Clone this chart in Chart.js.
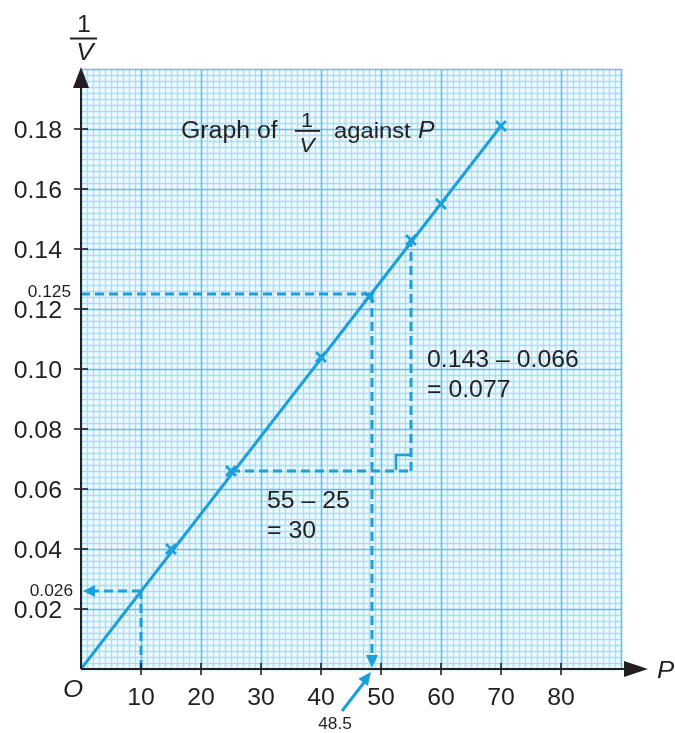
<!DOCTYPE html>
<html><head><meta charset="utf-8">
<script src="https://cdn.jsdelivr.net/npm/chart.js@4"></script>
<style>html,body{margin:0;padding:0;background:#fff;}#wrap{width:675px;height:733px;}</style>
</head><body><div id="wrap"><canvas id="c" width="675" height="733"></canvas></div>
<script>
// ---- data ----
const pValues   = [15, 25, 40, 48, 55, 60, 70];
const invVValues = [0.040, 0.066, 0.104, 0.124, 0.143, 0.155, 0.181];
const fitP = [0, 70];
const fitInvV = [0, 0.181];
const xTickLabels = [10, 20, 30, 40, 50, 60, 70, 80];
const yTickLabels = [0.02, 0.04, 0.06, 0.08, 0.10, 0.12, 0.14, 0.16, 0.18];
const readP = [10];          const readInvV = [0.026];
const interpP = [48.5];      const interpInvV = [0.125];
const gradP = [25, 55];      const gradInvV = [0.066, 0.143];
const xRange = [0, 90];
const yRange = [0, 0.2];
const xMinorStep = 1, xMajorEvery = 10;
const yMinorStep = 0.002, yMajorEvery = 10;

const BLUE = '#1aa0da';
const INK = '#231f20';
const PAPER = '#f1fafe';
const MINOR = '#a8dff7';
const MAJOR = '#5cc3ef';
const FONT = '"Liberation Sans", Arial, Helvetica, sans-serif';

function pts(xs, ys){ return xs.map((x,i)=>({x:x, y:ys[i]})); }
function dashed(data){ return {data, showLine:true, borderColor:BLUE, borderWidth:3, borderDash:[9,5], pointRadius:0, fill:false, clip:false}; }

function txt(ctx, s, x, y, size, opts){
  opts = opts || {};
  ctx.save();
  ctx.font = (opts.italic ? 'italic ' : '') + size + 'px ' + FONT;
  ctx.fillStyle = opts.color || INK;
  ctx.translate(x, y);
  ctx.scale(opts.sx || 1.08, 1);
  ctx.textAlign = opts.align || 'left';
  ctx.textBaseline = 'alphabetic';
  ctx.fillText(s, 0, 0);
  ctx.restore();
}
function tri(ctx, tip, dir, len, half, color){
  const [tx, ty] = tip; const [dx, dy] = dir;
  const n = Math.hypot(dx, dy); const ux = dx/n, uy = dy/n;
  const bx = tx - ux*len, by = ty - uy*len;
  ctx.save(); ctx.fillStyle = color; ctx.beginPath();
  ctx.moveTo(tx, ty);
  ctx.lineTo(bx - uy*half, by + ux*half);
  ctx.lineTo(bx + uy*half, by - ux*half);
  ctx.closePath(); ctx.fill(); ctx.restore();
}

const graphPaper = {
  id: 'graphPaper',
  beforeDatasetsDraw(chart){
    const ctx = chart.ctx; const xs = chart.scales.x, ys = chart.scales.y;
    const a = chart.chartArea;
    const nx = Math.round((xRange[1] - xRange[0]) / xMinorStep);
    const ny = Math.round((yRange[1] - yRange[0]) / yMinorStep);
    const left = Math.round(a.left), right = Math.round(a.right), top = Math.round(a.top), bottom = Math.round(a.bottom);
    ctx.save();
    ctx.fillStyle = PAPER; ctx.fillRect(left, top, right - left + 1, bottom - top);
    const pass = (major) => {
      ctx.beginPath();
      for (let i = 0; i <= nx; i++) {
        if ((i % xMajorEvery === 0) !== major) continue;
        const p = Math.round(xs.getPixelForValue(xRange[0] + i * xMinorStep)) + 0.5;
        ctx.moveTo(p, top); ctx.lineTo(p, bottom);
      }
      for (let j = 0; j <= ny; j++) {
        if ((j % yMajorEvery === 0) !== major) continue;
        const p = Math.round(ys.getPixelForValue(yRange[0] + j * yMinorStep)) + 0.5;
        ctx.moveTo(left, p); ctx.lineTo(right, p);
      }
      ctx.stroke();
    };
    ctx.lineWidth = 1.4; ctx.strokeStyle = MINOR; pass(false);
    ctx.lineWidth = 1.6; ctx.strokeStyle = MAJOR; pass(true);
    ctx.restore();
  }
};

const overlay = {
  id: 'overlay',
  afterDatasetsDraw(chart){
    const ctx = chart.ctx; const xs = chart.scales.x, ys = chart.scales.y;
    const X = v => xs.getPixelForValue(v), Y = v => ys.getPixelForValue(v);
    const x0 = X(0), y0 = Y(0);

    // right-angle marker at the gradient triangle corner
    ctx.save(); ctx.strokeStyle = BLUE; ctx.lineWidth = 2.5; ctx.setLineDash([]);
    ctx.beginPath();
    ctx.moveTo(X(gradP[1]) - 15, Y(gradInvV[0]) - 1);
    ctx.lineTo(X(gradP[1]) - 15, Y(gradInvV[0]) - 16);
    ctx.lineTo(X(gradP[1]) + 1, Y(gradInvV[0]) - 16);
    ctx.stroke(); ctx.restore();

    // arrowheads on dashed read-off lines
    tri(ctx, [x0 + 2, Y(readInvV[0])], [-1, 0], 12, 6, BLUE);
    tri(ctx, [X(interpP[0]), y0 - 1], [0, 1], 13, 6, BLUE);

    // axes
    ctx.save(); ctx.strokeStyle = INK; ctx.lineWidth = 2;
    ctx.beginPath(); ctx.moveTo(x0, y0); ctx.lineTo(627, y0); ctx.stroke();
    ctx.beginPath(); ctx.moveTo(x0, y0); ctx.lineTo(x0, 86); ctx.stroke();
    ctx.lineWidth = 1.6;
    yTickLabels.forEach(v => { ctx.beginPath(); ctx.moveTo(x0 - 7, Y(v)); ctx.lineTo(x0 + 7, Y(v)); ctx.stroke(); });
    xTickLabels.forEach(v => { ctx.beginPath(); ctx.moveTo(X(v), y0 - 6); ctx.lineTo(X(v), y0 + 6); ctx.stroke(); });
    ctx.restore();
    tri(ctx, [648, y0], [1, 0], 24, 8, INK);
    tri(ctx, [x0, 67], [0, -1], 21, 8, INK);

    // tick labels
    yTickLabels.forEach(v => txt(ctx, v.toFixed(2), 62, Y(v) + 8.5, 23, {align:'right'}));
    xTickLabels.forEach(v => txt(ctx, String(v), X(v), 705, 23, {align:'center'}));
    txt(ctx, 'O', 73, 697, 24, {italic:true, align:'center'});
    txt(ctx, 'P', 657, 678, 24, {italic:true});

    // y-axis title 1/V
    txt(ctx, '1', 84, 32, 23, {align:'center'});
    ctx.save(); ctx.fillStyle = INK; ctx.fillRect(70, 37.5, 27, 2); ctx.restore();
    txt(ctx, 'V', 85, 60, 24, {italic:true, align:'center'});

    // chart title
    txt(ctx, 'Graph of', 181, 138, 23);
    txt(ctx, '1', 307, 127, 20, {align:'center'});
    ctx.save(); ctx.fillStyle = INK; ctx.fillRect(295, 130, 25, 1.8); ctx.restore();
    txt(ctx, 'V', 307, 152, 21, {italic:true, align:'center'});
    txt(ctx, 'against', 334, 138, 22);
    txt(ctx, 'P', 418, 138, 23, {italic:true});

    // annotations
    txt(ctx, '0.143 \u2013 0.066', 427, 367, 23);
    txt(ctx, '= 0.077', 427, 397, 23);
    txt(ctx, '55 \u2013 25', 267, 508, 23);
    txt(ctx, '= 30', 267, 538, 23);
    txt(ctx, readInvV[0].toFixed(3), 73, 596, 16, {align:'right'});
    txt(ctx, interpInvV[0].toFixed(3), 71, 297, 16, {align:'right'});
    txt(ctx, String(interpP[0]), 335, 729, 16, {align:'center'});

    // arrow from 48.5 label to the axis
    ctx.save(); ctx.strokeStyle = BLUE; ctx.lineWidth = 3;
    ctx.beginPath(); ctx.moveTo(342, 711); ctx.lineTo(366, 680); ctx.stroke(); ctx.restore();
    tri(ctx, [X(interpP[0]) - 1, y0 + 3], [371 - 342, 673 - 711], 13, 6, BLUE);
  }
};

new Chart(document.getElementById('c'), {
  type: 'scatter',
  data: {
    datasets: [
      dashed(pts([readP[0], readP[0]], [0, readInvV[0]])),
      dashed(pts([readP[0], 2], [readInvV[0], readInvV[0]])),
      dashed(pts([0, interpP[0]], [interpInvV[0], interpInvV[0]])),
      dashed(pts([interpP[0], interpP[0]], [interpInvV[0], 0.004])),
      dashed(pts(gradP, [gradInvV[0], gradInvV[0]])),
      dashed(pts([gradP[1], gradP[1]], gradInvV)),
      {data: pts(fitP, fitInvV), showLine:true, borderColor:BLUE, borderWidth:3, pointRadius:0, fill:false},
      {data: pts(pValues, invVValues), showLine:false, pointStyle:'crossRot', pointRadius:7, borderColor:BLUE, backgroundColor:BLUE, pointBorderWidth:2.8}
    ]
  },
  options: {
    responsive: false, animation: false, devicePixelRatio: 1,
    layout: {padding: {left: 81, right: 54, top: 69, bottom: 64}},
    plugins: {legend: {display:false}, tooltip: {enabled:false}, title: {display:false}},
    scales: {
      x: {type:'linear', min:xRange[0], max:xRange[1],
          ticks:{display:false, stepSize:10},
          border:{display:false},
          grid:{display:false, drawTicks:false}},
      y: {type:'linear', min:yRange[0], max:yRange[1],
          ticks:{display:false, stepSize:0.02},
          border:{display:false},
          grid:{display:false, drawTicks:false}}
    }
  },
  plugins: [graphPaper, overlay]
});
</script></body></html>
